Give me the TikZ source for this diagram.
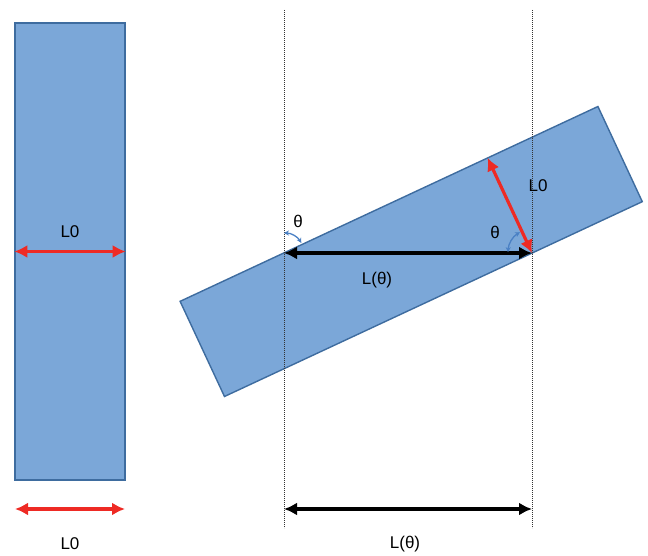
\documentclass[tikz,border=0pt]{standalone}
\usepackage{fontspec}
\setmainfont{Liberation Sans}
\usepackage{xcolor}
\usepackage{tikz}
\usetikzlibrary{
  arrows.meta,
  positioning,
  calc
}
\definecolor{barfill}  {HTML}{7BA7D8}
\definecolor{barline}  {HTML}{3E6C9F}
\definecolor{arrred}   {HTML}{EE2A24}
\definecolor{arcblue}  {HTML}{4A80C4}

\begin{document}
\begin{tikzpicture}[
  x=1pt, y=1pt,
  every node/.style={font=\fontsize{17}{19}\selectfont},
  bar/.style={rectangle, draw=barline, fill=barfill, line width=1.4pt,
              inner sep=0pt},
  guide/.style={line width=1pt, dash pattern=on 1.2pt off 0.8pt, black!80},
  redarr/.style={{Latex[length=13pt,width=13pt]}-{Latex[length=13pt,width=13pt]},
                 line width=3.2pt, arrred},
  blackarr/.style={{Latex[length=13pt,width=13pt]}-{Latex[length=13pt,width=13pt]},
                   line width=3.2pt, black},
  thetaarc/.style={{Stealth[length=5pt,width=5pt]}-{Stealth[length=5pt,width=5pt]},
                   line width=1.3pt, arcblue},
]
\useasboundingbox (0,0) rectangle (648,555);

% straight bar
\node[bar, minimum width=110pt, minimum height=457pt](bar) at (70,303.5) {};
\draw[redarr](bar.west)--(bar.east);
\node(lzero) at (70,323) {L0};

% bar turned by theta
\node[bar, rotate=25, minimum width=461pt, minimum height=105pt](tilt)
  at (411.2,303.5) {};

% guides
\coordinate(g1top) at (284,545); \coordinate(g1bot) at (284,27);
\coordinate(g2top) at (532,545); \coordinate(g2bot) at (532,27);
\draw[guide](g1top)--(g1bot); \draw[guide](g2top)--(g2bot);

\coordinate(P) at (284,302);
\coordinate(Q) at (532,302);
\coordinate(R) at ($(Q)+(115:105)$);
\draw[blackarr](P)--(Q);
\draw[redarr](Q)--(R);
\node(ltheta) at (377,275) {L(θ)};
\node(lzerotilt) at (538,369) {L0};

\draw[thetaarc]($(P)+(90:20)$) arc[start angle=90, end angle=30, radius=20];
\draw[thetaarc]($(Q)+(178:24)$) arc[start angle=178, end angle=120, radius=24];
\node(th1) at (298,334) {θ};
\node(th2) at (495,323) {θ};

% widths below
\coordinate(b1) at (15,46); \coordinate(b2) at (125,46);
\draw[redarr](b1)--(b2);
\node(lzerobot) at (70,11) {L0};
\coordinate(c1) at (284,46); \coordinate(c2) at (532,46);
\draw[blackarr](c1)--(c2);
\node(lthetabot) at (405,11) {L(θ)};
\end{tikzpicture}
\end{document}
